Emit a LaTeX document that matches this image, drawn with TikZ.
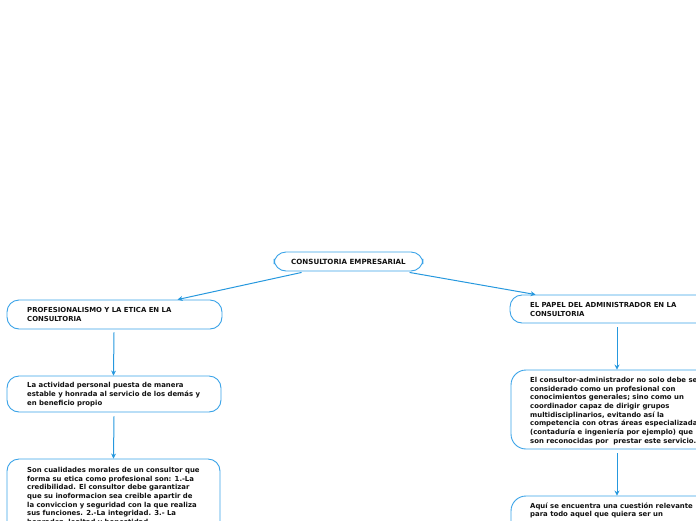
\documentclass[tikz,border=0pt]{standalone}
\usepackage{fontspec}
\setmainfont{DejaVu Sans}
\usetikzlibrary{arrows.meta}
\definecolor{boxc}{RGB}{58,163,232}
\definecolor{arrc}{RGB}{38,152,222}
\definecolor{txtc}{RGB}{17,17,17}
\tikzset{
  box/.style={draw=boxc, line width=0.9pt, rounded corners=12pt, fill=white, inner sep=0pt},
  txt/.style={anchor=north west, inner sep=0pt, align=left, text=txtc,
    font=\bfseries\fontsize{6.9}{8.7}\selectfont},
  arr/.style={draw=arrc, line width=1pt, -{Stealth[length=5pt,width=5pt]}}
}
\begin{document}
\begin{tikzpicture}[x=1pt,y=-1pt]
\useasboundingbox (0,0) rectangle (696,520);
\clip (0,0) rectangle (696,520);
\node[box, minimum width=149pt, minimum height=19pt, text=txtc, font=\bfseries\fontsize{7.1}{8.7}\selectfont] (root) at (348.5,261.5) {CONSULTORIA EMPRESARIAL};
\node[box, minimum width=215pt, minimum height=29pt] (l1) at (114.5,314.5) {};
\node[box, minimum width=214pt, minimum height=36pt] (l2) at (114,394) {};
\node[box, minimum width=213pt, minimum height=100pt] (l3) at (113.5,509) {};
\node[box, minimum width=215pt, minimum height=28pt] (r1) at (617.5,309) {};
\node[box, minimum width=215pt, minimum height=79pt, rounded corners=15pt] (r2) at (618.5,409.5) {};
\node[box, minimum width=215pt, minimum height=100pt, rounded corners=15pt] (r3) at (618.5,546) {};

\node[txt] (t1) at (27,307.5) {PROFESIONALISMO Y LA ETICA EN LA\\CONSULTORIA};
\node[txt] (t2) at (27,382.5) {La actividad personal puesta de manera\\estable y honrada al servicio de los demás y\\en beneficio propio};
\node[txt] (t3) at (27,467) {Son cualidades morales de un consultor que\\forma su etica como profesional son: 1.-La\\credibilidad. El consultor debe garantizar\\que su inoformacion sea creible apartir de\\la conviccion y seguridad con la que realiza\\sus funciones. 2.-La integridad. 3.- La\\honradez, lealtad y honestidad.};
\node[txt] (t4) at (530,302) {EL PAPEL DEL ADMINISTRADOR EN LA\\CONSULTORIA};
\node[txt] (t5) at (530,377) {El consultor-administrador no solo debe ser\\considerado como un profesional con\\conocimientos generales; sino como un\\coordinador capaz de dirigir grupos\\multidisciplinarios, evitando así la\\competencia con otras áreas especializadas\\(contaduría e ingeniería por ejemplo) que\\son reconocidas por \ prestar este servicio.};
\node[txt] (t6) at (530,502.5) {Aquí se encuentra una cuestión relevante\\para todo aquel que quiera ser un};

\draw[arr] ([xshift=28pt,yshift=-1pt]root.south west) -- ([xshift=171pt]l1.north west);
\draw[arr] ([xshift=136pt,yshift=-1pt]root.south west) -- ([xshift=26pt]r1.north west);
\draw[arr] ([xshift=-0.5pt,yshift=-3pt]l1.south) -- ([xshift=-0.5pt]l2.north);
\draw[arr] ([yshift=-4pt]l2.south) -- (l3.north);
\draw[arr] ([xshift=-0.5pt,yshift=-4pt]r1.south) -- ([xshift=-1.5pt]r2.north);
\draw[arr] ([xshift=-1.5pt,yshift=-4pt]r2.south) -- ([xshift=-1.5pt]r3.north);
\end{tikzpicture}
\end{document}
